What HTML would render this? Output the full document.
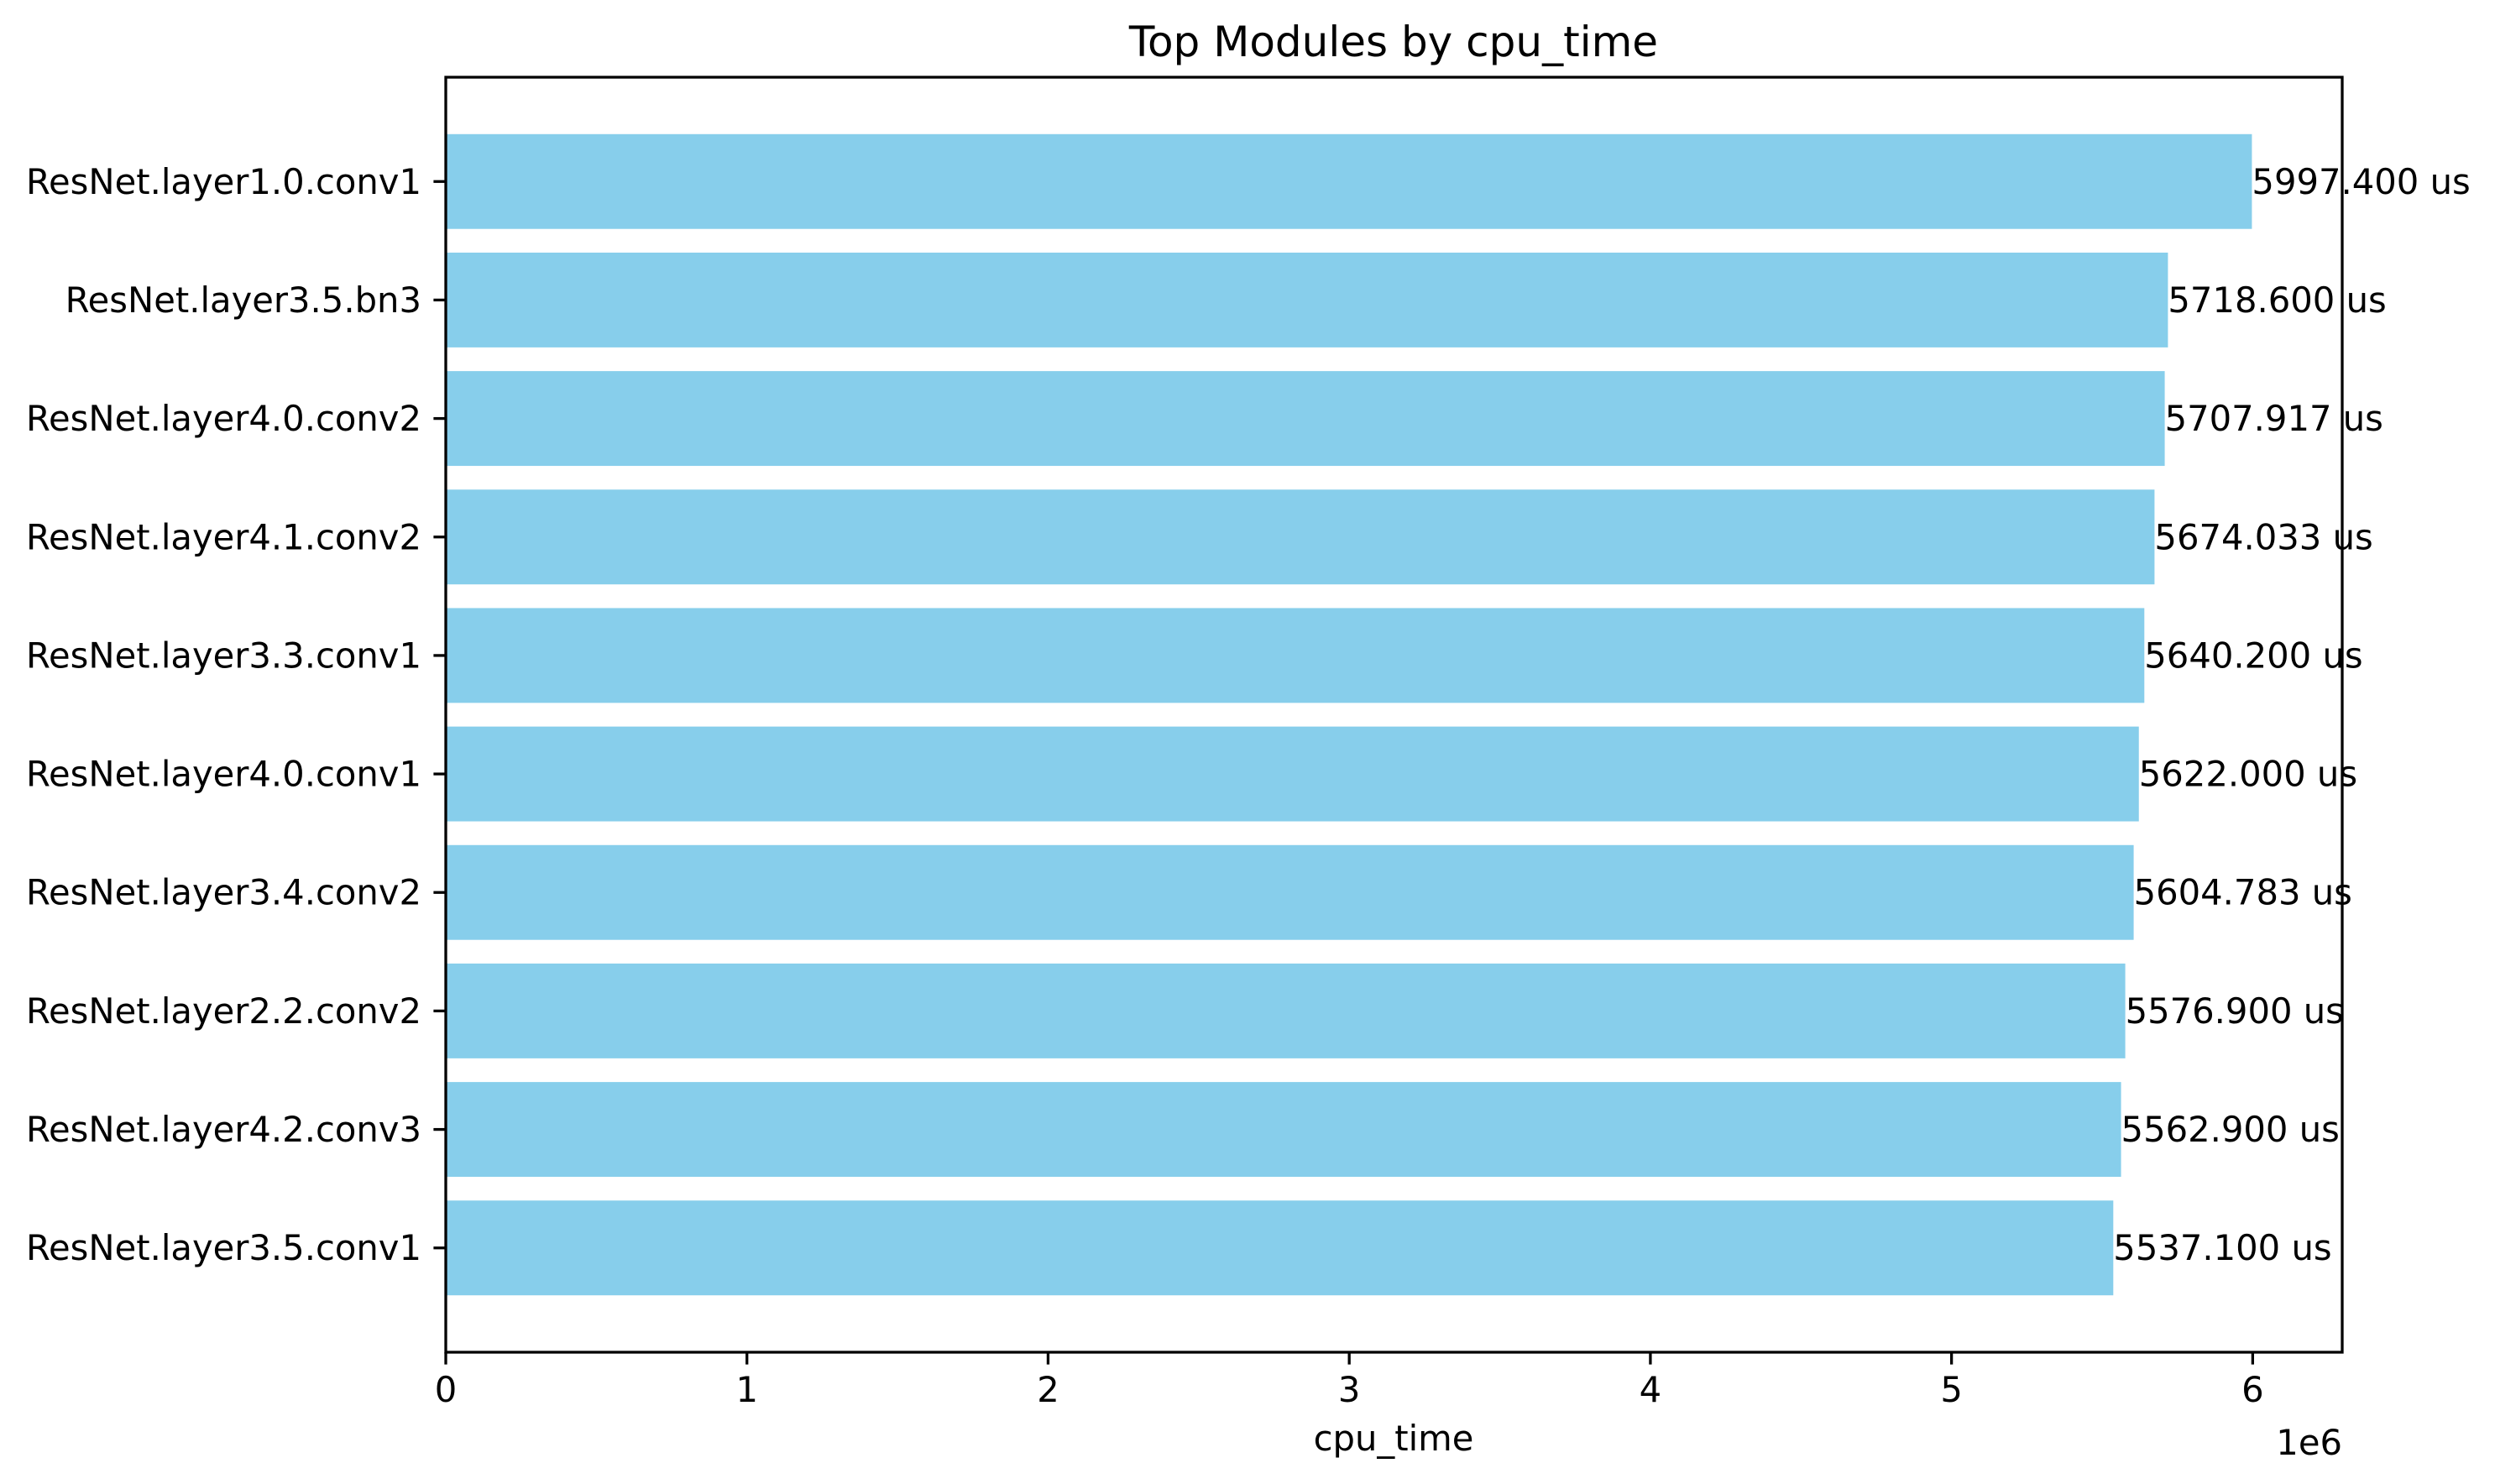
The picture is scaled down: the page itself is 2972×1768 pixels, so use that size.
<!DOCTYPE html>
<html><head><meta charset="utf-8"><style>
html,body{margin:0;padding:0;background:#fff}
svg{display:block}
text{font-family:"DejaVu Sans","Liberation Sans",sans-serif;fill:#000}
</style></head><body>
<svg id="chart" width="2972" height="1768" viewBox="0 0 2972 1768" xmlns="http://www.w3.org/2000/svg">
<rect width="2972" height="1768" fill="#fff"/>
<text x="1660" y="67" font-size="50" text-anchor="middle">Top Modules by cpu_time</text>
<g id="bars"></g>
<g id="yticks"></g>
<g id="xticks"></g>
<rect x="531" y="92" width="2259" height="1519" fill="none" stroke="#000" stroke-width="3.3"/>
<text x="1660" y="1728" font-size="41.7" text-anchor="middle">cpu_time</text>
<text x="2790" y="1733" font-size="41.7" text-anchor="end">1e6</text>
</svg>
<script>
const categories = ["ResNet.layer1.0.conv1","ResNet.layer3.5.bn3","ResNet.layer4.0.conv2","ResNet.layer4.1.conv2","ResNet.layer3.3.conv1","ResNet.layer4.0.conv1","ResNet.layer3.4.conv2","ResNet.layer2.2.conv2","ResNet.layer4.2.conv3","ResNet.layer3.5.conv1"];
const valuesUs = [5997.400,5718.600,5707.917,5674.033,5640.200,5622.000,5604.783,5576.900,5562.900,5537.100];
const xTicks = [0,1,2,3,4,5,6];
const xTickLabels = ["0","1","2","3","4","5","6"];

const NS = "http://www.w3.org/2000/svg";
const L = 531, R = 2790, T = 92, B = 1611;
const values = valuesUs.map(v => v * 1000);
const xMax = Math.max(...values) * 1.05;
const xScale = v => L + (v / xMax) * (R - L);
const n = categories.length;
const yMin = -0.4 - 0.049 * (n - 1 + 0.8), yMax = (n - 1) + 0.4 + 0.049 * (n - 1 + 0.8);
const yScale = i => T + ((i - yMin) / (yMax - yMin)) * (B - T);
function mk(tag, attrs, parent) {
  const e = document.createElementNS(NS, tag);
  for (const k in attrs) e.setAttribute(k, attrs[k]);
  parent.appendChild(e);
  return e;
}
const gb = document.getElementById('bars');
const gy = document.getElementById('yticks');
const gx = document.getElementById('xticks');
categories.forEach((c, i) => {
  const yc = yScale(i);
  const y0 = yScale(i - 0.4), y1 = yScale(i + 0.4);
  const r = mk('rect', {x: L, y: y0, width: xScale(values[i]) - L, height: y1 - y0, fill: '#87ceeb'}, gb);
  
  
  const t = mk('text', {x: xScale(values[i]), y: yc, 'font-size': 41.7, 'dominant-baseline': 'central'}, gb);
  t.textContent = valuesUs[i].toFixed(3) + ' us';
  
  
  const tk = mk('line', {x1: L - 14.6, x2: L, y1: yc, y2: yc, stroke: '#000', 'stroke-width': 3.3}, gy);
  
  
  const lb = mk('text', {x: L - 29, y: yc, 'font-size': 41.7, 'text-anchor': 'end', 'dominant-baseline': 'central'}, gy);
  lb.textContent = c;
  
  
});
xTicks.forEach((v, i) => {
  const x = xScale(v * 1e6);
  const tk = mk('line', {x1: x, x2: x, y1: B, y2: B + 14.6, stroke: '#000', 'stroke-width': 3.3}, gx);
  
  
  const lb = mk('text', {x: x, y: 1670, 'font-size': 41.7, 'text-anchor': 'middle'}, gx);
  lb.textContent = xTickLabels[i];
  
  
});
</script>
</body></html>
